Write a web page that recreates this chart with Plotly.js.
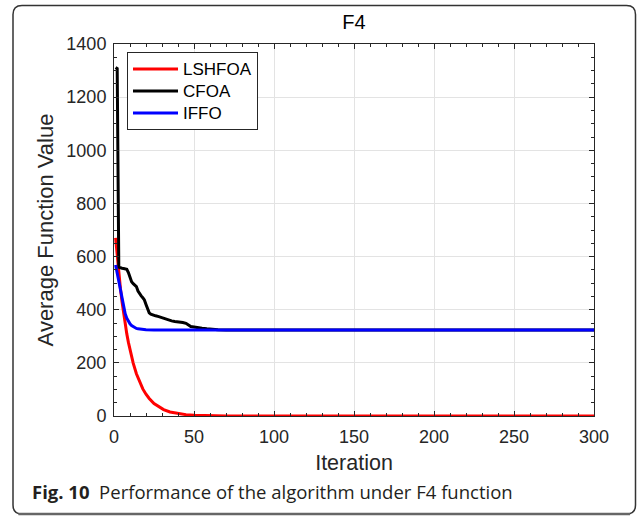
<!DOCTYPE html>
<html>
<head>
<meta charset="utf-8">
<script src="https://cdn.plot.ly/plotly-3.0.1.min.js"></script>
<style>
  html, body { margin: 0; padding: 0; background: #ffffff; }
  #chart { width: 637px; height: 520px; }
</style>
</head>
<body>
<div id="chart"></div>
<script>
// ---- Data ----
const seriesNames = ['LSHFOA', 'CFOA', 'IFFO'];

const lshfoaIter = [1,2,3,4,5,6,7,8,9,10,12,14,16,18,20,22,25,28,31,35,40,45,50,55,60,70,80,100,300];
const lshfoaVal  = [670,600,537,481,431,386,345,309,277,248,199,159,128,102,82,66,47,34,24,15,9,5,3,1.8,1,0.4,0.1,0,0];

const cfoaIter = [1,2,3,4,5,6,7,8,9,10,11,12,13,14,15,16,17,18,19,20,21,22,23,24,26,28,30,32,34,36,38,41,43,45,47,48,50,53,55,58,61,65,70,300];
const cfoaVal  = [1312,1308,560,557,556,555,554,552,540,525,505,498,492,487,470,458,452,445,437,420,405,388,383,380,377,374,370,366,360,358,356,355,352,349,343,337,335,331,330,328,326,325,324,324];

const iffoIter = [1,2,3,4,5,6,7,8,9,10,11,12,13,14,15,17,20,25,30,300];
const iffoVal  = [568,536,505,472,440,408,385,368,356,347,340,335.5,332,329.5,328,326,325,324,324,324];

const titleText = 'F4';
const xTitle = 'Iteration';
const yTitle = 'Average Function Value';
const captionBold = 'Fig. 10';
const captionText = 'Performance of the algorithm under F4 function';

const xTickVals = [0,50,100,150,200,250,300];
const yTickVals = [0,200,400,600,800,1000,1200,1400];

// ---- Styling ----
const F = 'Liberation Sans, Arial, sans-serif';
const AX = '#262626';
const legendLabel = s => '<span style="font-size:17px">' + s + '</span>';

const traces = [
  { x: lshfoaIter, y: lshfoaVal, name: legendLabel(seriesNames[0]), mode: 'lines', line: { color: '#ff0000', width: 3 } },
  { x: cfoaIter,   y: cfoaVal,   name: legendLabel(seriesNames[1]), mode: 'lines', line: { color: '#000000', width: 3 } },
  { x: iffoIter,   y: iffoVal,   name: legendLabel(seriesNames[2]), mode: 'lines', line: { color: '#0000ff', width: 3 } }
];

const W = 637, H = 520;
const L = 114, R = 43, T = 44, B = 104;
const pw = W - L - R, ph = H - T - B;
const px = v => (v - L) / pw;          // pixel x -> paper x
const py = v => (H - B - v) / ph;      // pixel y -> paper y

// rounded frame path in paper coords
const x0 = px(13), x1 = px(635.5), y0 = py(5.5), y1 = py(514);
const rx = 9 / pw, ry = 9 / ph;
const framePath = `M ${x0+rx},${y0} L ${x1-rx},${y0} Q ${x1},${y0} ${x1},${y0-ry} L ${x1},${y1+ry} Q ${x1},${y1} ${x1-rx},${y1} L ${x0+rx},${y1} Q ${x0},${y1} ${x0},${y1+ry} L ${x0},${y0-ry} Q ${x0},${y0} ${x0+rx},${y0} Z`;
const shadowPath = `M ${x0+rx*0.6},${y1} L ${x1-rx*0.6},${y1}`;

const axisCommon = {
  ticks: 'inside', ticklen: 5, tickwidth: 1, tickcolor: AX,
  showline: true, linecolor: AX, linewidth: 1, mirror: 'allticks',
  showgrid: true, gridcolor: '#e3e3e3', gridwidth: 1, zeroline: false,
  tickfont: { family: F, size: 18, color: AX },
  minor: { ticks: 'inside', ticklen: 3, tickcolor: AX, showgrid: false }
};

const layout = {
  width: W, height: H,
  margin: { l: L, r: R, t: T, b: B },
  paper_bgcolor: '#ffffff', plot_bgcolor: '#ffffff',
  showlegend: true,
  title: { text: titleText, font: { family: F, size: 20, color: '#000' }, x: 0.5, xref: 'paper', xanchor: 'center', y: 1 - 22 / H, yref: 'container', yanchor: 'middle' },
  xaxis: Object.assign({}, axisCommon, {
    range: [0, 300], tickmode: 'array', tickvals: xTickVals, ticklabelstandoff: 4,
    minor: Object.assign({}, axisCommon.minor, { dtick: 10, tick0: 0 }),
    title: { text: xTitle, font: { family: F, size: 21.5, color: AX }, standoff: 9 }
  }),
  yaxis: Object.assign({}, axisCommon, {
    range: [0, 1400], tickmode: 'array', tickvals: yTickVals, ticklabelstandoff: 3,
    minor: Object.assign({}, axisCommon.minor, { dtick: 50, tick0: 0 }),
    title: { text: yTitle, font: { family: F, size: 22, color: AX }, standoff: 6 }
  }),
  legend: {
    x: px(127), y: py(52), xanchor: 'left', yanchor: 'top',
    bgcolor: '#ffffff', bordercolor: AX, borderwidth: 1,
    font: { family: F, size: 14.6, color: '#000' },
    itemwidth: 45, tracegroupgap: 0
  },
  shapes: [
    { type: 'path', xref: 'paper', yref: 'paper', path: framePath, line: { color: '#333333', width: 1.5 }, fillcolor: 'rgba(0,0,0,0)', layer: 'below' },
    { type: 'path', xref: 'paper', yref: 'paper', path: shadowPath, line: { color: '#666666', width: 2.5 }, layer: 'below' }
  ],
  annotations: [
    { xref: 'paper', yref: 'paper', x: px(30), y: py(491), xanchor: 'left', yanchor: 'middle', showarrow: false,
      text: '<b>' + captionBold + '</b>\u00a0\u00a0' + captionText,
      font: { family: 'Open Sans, Noto Sans, sans-serif', size: 18.5, color: '#231f20' } }
  ]
};

Plotly.newPlot('chart', traces, layout, { displayModeBar: false, staticPlot: true });
</script>
</body>
</html>
